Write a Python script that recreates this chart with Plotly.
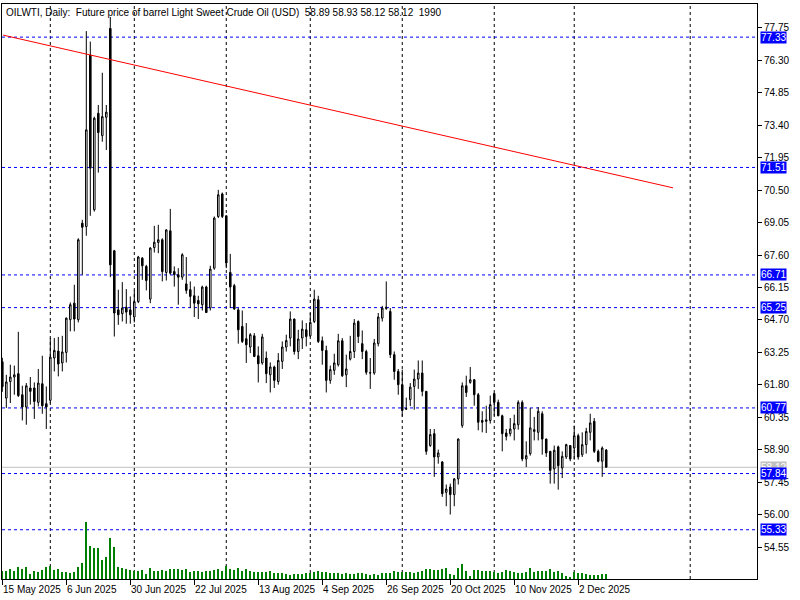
import plotly.graph_objects as go

# ---------------- data ----------------
open_ = [62.83, 61.21, 61.95, 62.15, 62.30, 61.36, 60.81, 61.66, 61.66, 61.02,
         61.85, 60.96, 61.11, 63.00, 63.31, 62.78, 63.25, 64.71, 65.45, 64.71,
         69.02, 68.87, 76.53, 69.62, 73.93, 72.93, 73.75, 77.72, 67.79, 65.15,
         64.98, 65.27, 65.15, 64.83, 65.52, 67.46, 67.09, 65.63, 67.93, 68.16,
         68.28, 66.82, 68.68, 66.86, 66.72, 66.61, 66.31, 66.05, 65.78, 65.57,
         65.38, 66.17, 65.23, 67.01, 69.32, 70.33, 69.35, 66.82, 66.23, 65.15,
         64.41, 63.86, 63.49, 63.99, 63.10, 62.78, 63.00, 62.25, 62.60, 61.95,
         62.85, 63.49, 63.89, 64.74, 63.29, 63.89, 64.26, 63.99, 64.63, 65.60,
         63.77, 63.34, 62.00, 62.45, 62.70, 63.77, 62.25, 62.95, 63.29, 64.63,
         63.64, 63.29, 62.34, 62.33, 63.64, 64.78, 65.21, 65.08, 63.15, 62.40,
         61.81, 60.74, 61.14, 61.73, 62.06, 62.33, 61.51, 59.09, 59.62, 58.58,
         58.36, 57.00, 57.24, 56.90, 57.60, 59.98, 61.76, 61.91, 62.03, 61.36,
         60.21, 60.17, 60.21, 61.41, 61.02, 60.42, 59.65, 59.62, 59.83, 60.02,
         61.02, 58.49, 58.73, 59.72, 59.68, 60.51, 59.38, 58.83, 58.05, 59.03,
         58.09, 58.58, 59.09, 58.98, 59.53, 58.68, 59.13, 59.68, 60.17, 58.83,
         58.39, 58.89]
high = [63.01, 62.25, 62.70, 62.66, 64.17, 61.76, 61.88, 62.15, 61.91, 62.51,
        63.10, 61.73, 63.89, 63.89, 63.94, 63.99, 64.81, 65.48, 66.27, 68.35,
        69.17, 77.60, 77.13, 73.78, 74.30, 75.74, 74.30, 78.23, 67.83, 66.05,
        66.39, 66.08, 65.75, 66.02, 67.56, 67.51, 67.16, 67.95, 68.90, 68.95,
        68.35, 68.75, 69.66, 67.09, 67.01, 67.68, 67.51, 66.42, 66.19, 65.78,
        66.23, 66.23, 67.12, 69.32, 70.51, 70.39, 69.37, 67.65, 66.31, 65.24,
        65.12, 64.56, 64.11, 64.11, 63.52, 64.08, 63.29, 62.80, 62.66, 63.22,
        63.74, 64.04, 65.08, 64.76, 64.26, 64.68, 64.56, 65.01, 66.05, 65.78,
        63.96, 63.55, 62.66, 63.19, 64.08, 63.89, 63.15, 63.99, 64.74, 64.68,
        64.23, 63.37, 63.00, 63.85, 65.01, 65.33, 66.42, 65.23, 63.29, 62.51,
        62.48, 61.23, 61.88, 62.48, 62.89, 62.89, 61.53, 59.83, 59.83, 58.91,
        58.39, 57.35, 57.39, 57.64, 59.41, 61.91, 62.21, 62.60, 62.06, 61.44,
        60.62, 60.87, 61.32, 61.44, 61.14, 60.47, 59.83, 60.32, 60.47, 61.11,
        61.11, 59.28, 60.77, 60.37, 60.81, 60.62, 59.40, 58.85, 59.09, 59.09,
        58.83, 59.17, 59.11, 59.98, 59.62, 59.68, 59.88, 60.51, 60.32, 58.91,
        59.05, 58.93]
low = [61.49, 60.77, 60.99, 61.36, 61.26, 60.21, 60.02, 60.92, 60.28, 60.84,
       60.51, 59.83, 60.99, 62.40, 62.18, 62.40, 62.80, 64.19, 64.19, 64.59,
       66.72, 68.46, 69.35, 69.54, 71.28, 72.66, 72.29, 66.61, 63.96, 64.48,
       64.63, 64.53, 64.53, 64.59, 65.45, 66.49, 66.02, 65.45, 67.71, 67.68,
       66.42, 66.46, 66.72, 66.19, 65.38, 66.49, 65.87, 65.23, 64.83, 64.74,
       65.12, 65.01, 65.12, 66.94, 69.25, 69.25, 67.01, 65.23, 65.15, 63.64,
       63.67, 62.78, 63.22, 63.04, 61.91, 62.70, 61.88, 61.46, 61.66, 61.81,
       62.51, 63.29, 63.52, 63.15, 62.95, 63.40, 63.52, 63.94, 64.56, 63.67,
       62.70, 61.46, 61.85, 62.25, 62.62, 62.15, 61.70, 62.89, 63.00, 63.67,
       62.95, 62.25, 61.62, 62.25, 63.52, 64.63, 65.15, 63.00, 62.03, 61.36,
       60.39, 60.69, 60.85, 60.69, 61.62, 61.29, 58.68, 59.03, 57.69, 58.28,
       56.80, 56.38, 56.01, 56.38, 57.35, 59.88, 61.26, 61.85, 60.87, 59.77,
       59.68, 59.65, 60.07, 60.42, 60.40, 58.83, 59.32, 59.50, 59.32, 59.80,
       58.39, 58.13, 58.64, 59.32, 59.32, 58.68, 58.58, 57.39, 57.39, 57.12,
       57.64, 58.49, 58.39, 58.46, 58.46, 58.58, 58.73, 59.32, 58.76, 58.34,
       57.69, 58.12]
close = [61.72, 61.93, 62.15, 62.25, 61.32, 60.81, 61.76, 61.51, 61.06, 61.88,
         60.87, 60.81, 63.04, 63.34, 62.73, 63.27, 64.78, 65.38, 64.74, 68.28,
         68.84, 73.19, 71.48, 73.71, 73.07, 73.78, 73.98, 67.16, 65.01, 64.93,
         65.23, 65.05, 64.93, 65.52, 67.51, 67.12, 66.46, 67.91, 68.17, 68.28,
         66.86, 68.72, 66.79, 66.72, 66.61, 67.61, 66.02, 65.75, 65.45, 65.42,
         66.17, 65.03, 66.97, 69.25, 70.29, 69.32, 67.24, 66.17, 65.19, 64.26,
         63.74, 63.59, 64.04, 63.07, 62.74, 63.94, 62.30, 62.60, 62.00, 62.89,
         63.49, 63.78, 64.74, 63.29, 63.85, 64.29, 63.96, 64.59, 65.63, 63.74,
         63.34, 62.00, 62.48, 62.78, 63.77, 62.21, 62.51, 63.29, 64.56, 63.96,
         63.29, 62.36, 62.33, 63.67, 64.83, 65.23, 65.27, 63.15, 62.40, 61.81,
         60.66, 60.72, 61.70, 62.06, 62.33, 61.51, 58.83, 59.58, 58.58, 58.76,
         56.94, 57.15, 56.90, 57.60, 59.38, 61.76, 61.46, 62.03, 61.36, 60.13,
         60.13, 60.24, 60.92, 61.02, 60.42, 59.62, 59.50, 59.83, 60.07, 61.02,
         58.49, 58.64, 59.88, 59.80, 60.62, 59.38, 58.76, 57.98, 58.88, 58.19,
         58.61, 59.13, 58.49, 59.53, 58.58, 59.13, 59.72, 60.10, 58.83, 58.39,
         58.98, 58.12]
volume = [3200, 3200, 4000, 3200, 4800, 4000, 4800, 2000, 3200, 2800,
          3600, 4800, 5200, 3600, 4000, 2800, 2800, 2400, 2800, 4800,
          6400, 22800, 13200, 12400, 12400, 7600, 8800, 16400, 12800, 4800,
          4400, 4000, 3600, 3200, 3200, 3600, 2000, 4400, 3200, 3200,
          3600, 3200, 4000, 4000, 4000, 3600, 4000, 2800, 3200, 3200,
          2800, 3200, 3200, 3600, 4000, 3200, 5200, 4000, 3600, 4400,
          3200, 4000, 3200, 2800, 2800, 2800, 2800, 3200, 2400, 2400,
          2400, 2000, 1600, 2000, 2000, 2000, 2400, 2400, 2800, 3200,
          2800, 2800, 2400, 2400, 2400, 2000, 2400, 2000, 2000, 2400,
          2400, 2000, 1600, 2000, 1600, 2400, 2400, 2400, 3200, 2800,
          2800, 2800, 2800, 2400, 2800, 3200, 4000, 4000, 3600, 3600,
          4000, 4400, 2000, 1600, 4400, 6000, 3200, 1200, 3600, 3600,
          3200, 3200, 3200, 2800, 2400, 2800, 3600, 3200, 2800, 2400,
          2400, 2800, 4400, 2800, 3200, 3200, 3200, 4000, 2800, 3200,
          2400, 1200, 800, 2800, 2400, 2400, 2000, 1600, 1600, 1600,
          2000, 1990]

date_labels = ["15 May 2025", "6 Jun 2025", "30 Jun 2025", "22 Jul 2025",
               "13 Aug 2025", "4 Sep 2025", "26 Sep 2025", "20 Oct 2025",
               "10 Nov 2025", "2 Dec 2025"]
price_ticks = ["77.75", "76.30", "74.85", "73.40", "71.95", "70.50", "69.05",
               "67.60", "66.15", "64.70", "63.25", "61.80", "60.35", "58.90",
               "57.45", "56.00", "54.55"]
levels = [77.33, 71.51, 66.71, 65.25, 60.77, 57.84, 55.33]
bottom_price = 53.11
last_price = 58.12
trend_start = (0.2, 77.42)
trend_end = (167.7, 70.60)
month_starts = [12, 33, 56, 77, 100, 123, 143, 172]   # bar index of monthly separators
header = ("OILWTI,\u00a0Daily:\u00a0\u00a0Future price of barrel Light Sweet Crude Oil (USD)"
          "\u00a0\u00a058.89 58.93 58.12 58.12\u00a0\u00a01990")

# ---------------- figure ----------------
idx = list(range(len(open_)))
label_step = 16
label_pos = [k * label_step for k in range(len(date_labels))]

FONT = "Liberation Sans"
fig = go.Figure()
fig.add_trace(go.Bar(x=idx, y=volume, yaxis="y2", width=0.22,
                     marker=dict(color="#008000", line=dict(width=0)),
                     hoverinfo="skip", showlegend=False))
fig.add_trace(go.Candlestick(
    x=idx, open=open_, high=high, low=low, close=close,
    increasing=dict(line=dict(color="black", width=1), fillcolor="white"),
    decreasing=dict(line=dict(color="black", width=1), fillcolor="black"),
    whiskerwidth=0, showlegend=False))

shapes = []
for m in month_starts:
    shapes.append(dict(type="line", xref="x", yref="paper", x0=m, x1=m, y0=0, y1=1,
                       line=dict(color="black", width=1, dash="3px,3px"), layer="below"))
shapes.append(dict(type="line", xref="paper", yref="y", x0=0, x1=1,
                   y0=last_price, y1=last_price,
                   line=dict(color="#C0C0C0", width=1), layer="below"))
for lv in levels:
    shapes.append(dict(type="line", xref="paper", yref="y", x0=0, x1=1, y0=lv, y1=lv,
                       line=dict(color="#0000FF", width=1, dash="3px,3px"), layer="below"))
shapes.append(dict(type="line", xref="x", yref="y",
                   x0=trend_start[0], y0=trend_start[1], x1=trend_end[0], y1=trend_end[1],
                   line=dict(color="#FF0000", width=1)))

annotations = []
for pos, lab in zip(label_pos, date_labels):
    annotations.append(dict(x=pos, y=0, xref="x", yref="paper", text=lab,
                            xanchor="left", yanchor="top", yshift=-3, xshift=-1,
                            showarrow=False, font=dict(family=FONT, size=10, color="black")))
annotations.append(dict(x=1, y=last_price, xref="paper", yref="y",
                        text=f"{last_price:.2f}", xanchor="left", yanchor="middle",
                        xshift=3, showarrow=False, bgcolor="#C0C0C0", borderpad=0,
                        font=dict(family=FONT, size=10, color="white")))
for lv in levels + [bottom_price]:
    annotations.append(dict(x=1, y=lv, xref="paper", yref="y", text=f"{lv:.2f}",
                            xanchor="left", yanchor="middle", xshift=3,
                            showarrow=False, bgcolor="#0000FF", borderpad=0,
                            font=dict(family=FONT, size=10, color="white")))
annotations.append(dict(x=0, y=1, xref="paper", yref="paper", text=header,
                        xanchor="left", yanchor="top", xshift=2, yshift=-1,
                        showarrow=False, font=dict(family=FONT, size=10, color="black")))

fig.update_layout(
    width=800, height=600,
    margin=dict(l=2, r=43, t=4, b=21, pad=0),
    paper_bgcolor="white", plot_bgcolor="white",
    font=dict(family=FONT, size=10, color="black"),
    showlegend=False, boxgap=0.45,
    shapes=shapes, annotations=annotations,
    xaxis=dict(range=[-0.08, 188.7], showgrid=False, zeroline=False,
               showline=True, linecolor="black", linewidth=1, mirror=True,
               tickvals=label_pos, ticks="outside", ticklen=5, tickcolor="black",
               showticklabels=False, rangeslider=dict(visible=False), fixedrange=True),
    yaxis=dict(range=[53.13, 78.81], side="right", showgrid=False, zeroline=False,
               showline=True, linecolor="black", linewidth=1, mirror=True,
               tickvals=[float(t) for t in price_ticks], ticktext=price_ticks,
               ticks="outside", ticklen=4, tickcolor="black", automargin=False,
               tickfont=dict(family=FONT, size=10, color="black")),
    yaxis2=dict(overlaying="y", range=[0, 230000], visible=False),
)

fig.write_html("out.html", config={"displayModeBar": False},
               post_script="document.body.style.margin='0';")
